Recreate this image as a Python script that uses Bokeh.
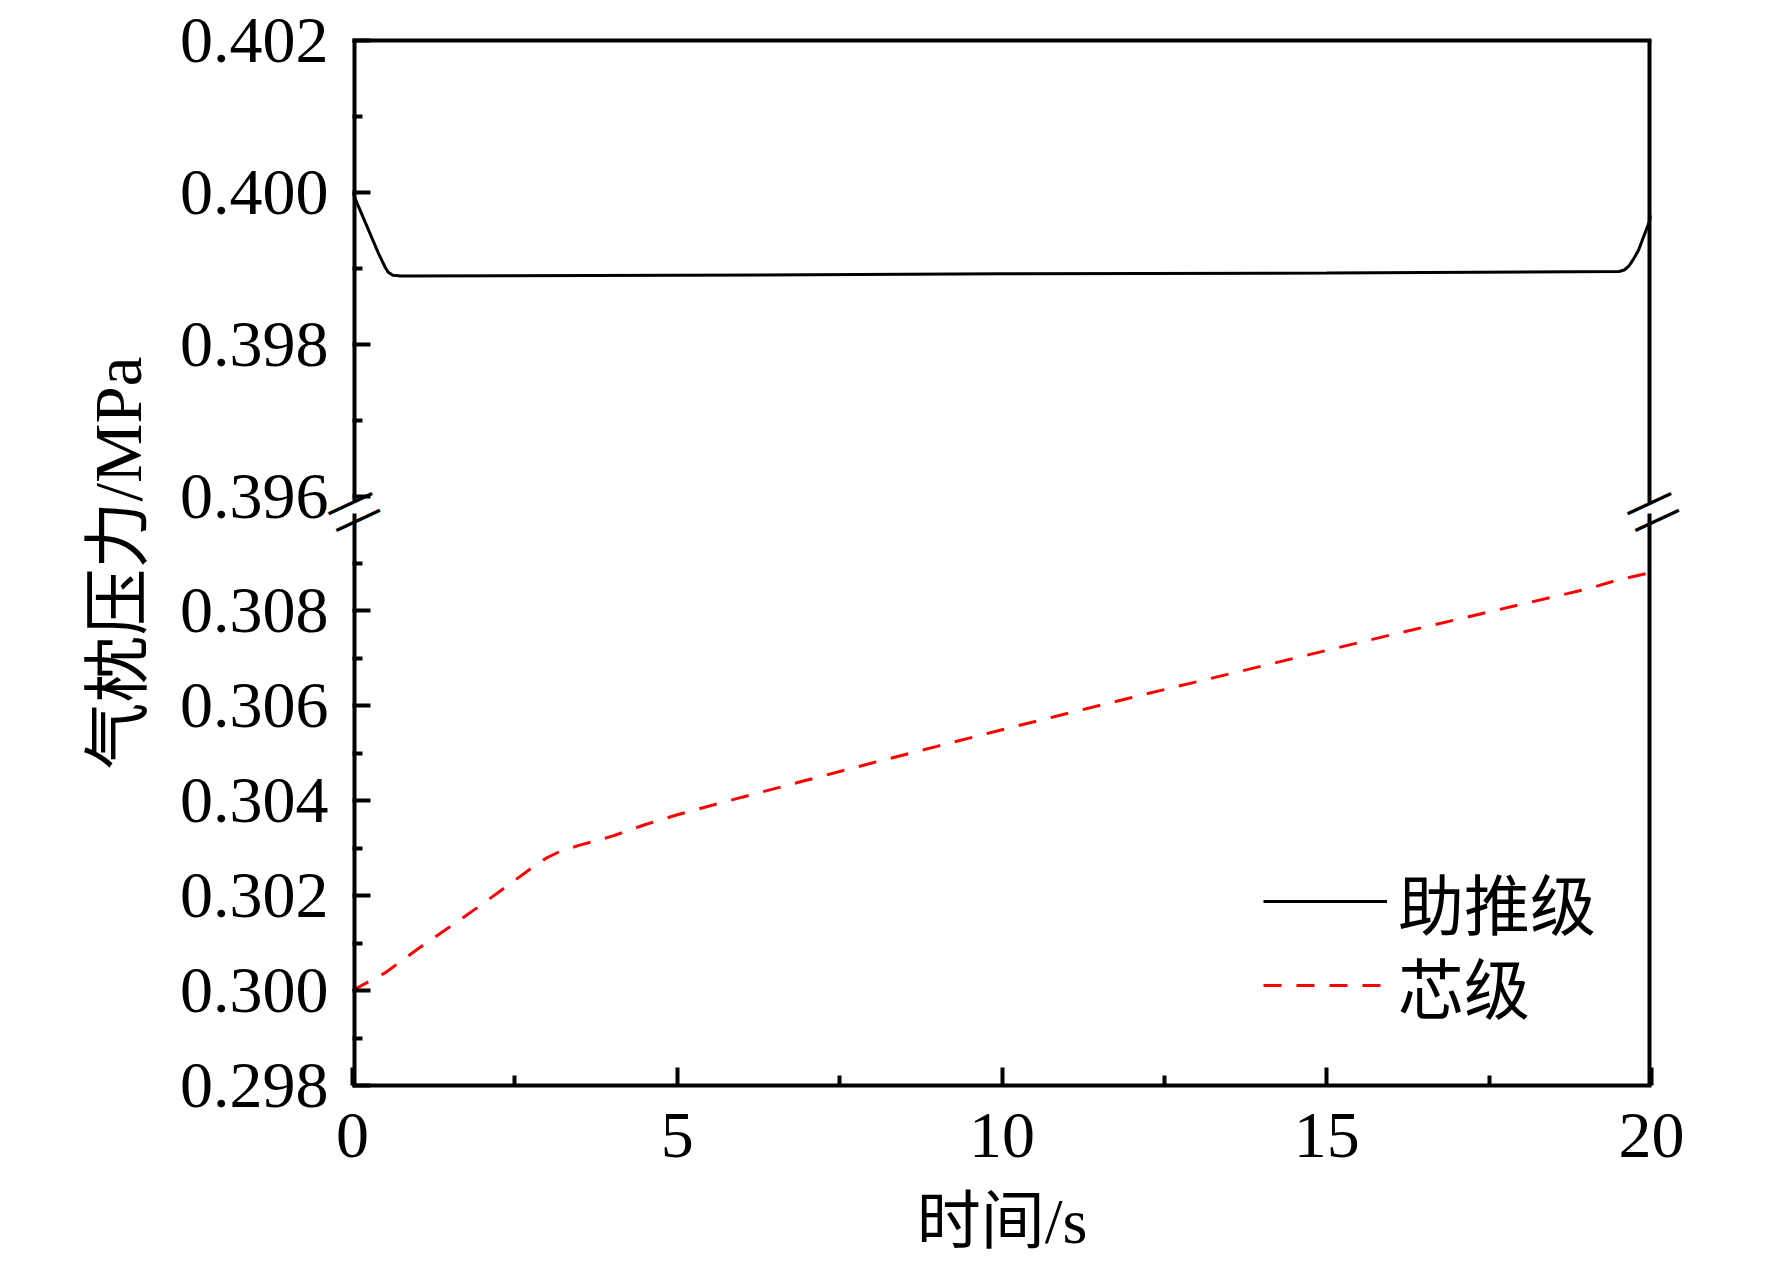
import math
from bokeh.plotting import figure
from bokeh.models import (Range1d, LinearAxis, FixedTicker, PrintfTickFormatter,
                          Legend, LegendItem, Label)
from bokeh.embed import file_html
from bokeh.resources import INLINE

# ---------------- data ----------------
series_names = ["助推级", "芯级"]
x_label = "时间/s"
y_label = "气枕压力/MPa"

time_booster = [0.00, 0.10, 0.20, 0.30, 0.40, 0.50, 0.55, 0.62, 0.75, 5.0, 10.0, 15.0,
                19.50, 19.58, 19.65, 19.72, 19.80, 19.88, 19.95, 20.00]
p_booster = [0.40000, 0.39980, 0.39960, 0.39940, 0.39920, 0.39902, 0.39895, 0.39891, 0.39890,
             0.39891, 0.39893, 0.39894, 0.39896, 0.39898, 0.39903, 0.39912, 0.39924, 0.39942,
             0.39958, 0.39970]

time_core = [0.0, 0.5, 1.0, 1.5, 2.0, 2.5, 2.8, 3.0, 3.2, 3.5, 4.0, 4.5, 5.0, 6.0, 7.0, 8.0,
             9.0, 10.0, 11.0, 12.0, 13.0, 14.0, 15.0, 16.0, 17.0, 18.0, 19.0, 19.5, 20.0]
p_core = [0.30000, 0.30037, 0.30087, 0.30134, 0.30182, 0.30232, 0.30262, 0.30280, 0.30293,
          0.30306, 0.30325, 0.30349, 0.30370, 0.30407, 0.30443, 0.30479, 0.30514, 0.30549,
          0.30583, 0.30617, 0.30650, 0.30683, 0.30716, 0.30749, 0.30781, 0.30813, 0.30845,
          0.30865, 0.30880]

y_top_ticks = [0.396, 0.398, 0.400, 0.402]
y_top_minor = [0.397, 0.399, 0.401]
y_bot_ticks = [0.298, 0.300, 0.302, 0.304, 0.306, 0.308]
y_bot_minor = [0.299, 0.301, 0.303, 0.305, 0.307, 0.309]
x_ticks = [0, 5, 10, 15, 20]
x_minor = [2.5, 7.5, 12.5, 17.5]

# ---------------- layout / style ----------------
FONT = "Liberation Serif, Noto Sans CJK SC"
NUM_FONT = "Liberation Serif"
FW, FH = 1299, 1045            # frame size (px)
LEFT_B, TOP_B, RIGHT_B, BOT_B = 352, 40, 50, 176
X_START, X_END = 0, 20
BOT_START = 0.298              # lower panel bottom value
BOT_PX = 47500.0               # px per MPa in lower panel
TOP_END = 0.402                # upper panel top value
TOP_PX = 76000.0               # px per MPa in upper panel
BREAK_TOP = 0.39597            # where the upper panel stops
BREAK_BOT = 0.30996            # where the lower panel stops


def on_lower_scale(v):
    """Position of an upper-panel value expressed on the lower panel's (default) y range."""
    return BOT_START + (FH - (TOP_END - v) * TOP_PX) / BOT_PX


p = figure(x_range=Range1d(X_START, X_END),
           y_range=Range1d(BOT_START, BOT_START + FH / BOT_PX),
           extra_y_ranges={"top": Range1d(TOP_END - FH / TOP_PX, TOP_END)},
           frame_width=FW, frame_height=FH,
           min_border_left=LEFT_B, min_border_right=RIGHT_B,
           min_border_top=TOP_B, min_border_bottom=BOT_B,
           toolbar_location=None, output_backend="svg",
           x_axis_type=None, y_axis_type=None, title=None)
p.outline_line_color = None
p.background_fill_color = "white"
p.border_fill_color = "white"


def ticks_style(ax, ticks, minor, font):
    ax.ticker = FixedTicker(ticks=ticks, minor_ticks=minor)
    ax.major_tick_in = 18
    ax.major_tick_out = 0
    ax.minor_tick_in = 10
    ax.minor_tick_out = 0
    ax.major_tick_line_width = 4
    ax.minor_tick_line_width = 4
    ax.major_tick_line_color = "black"
    ax.minor_tick_line_color = "black"
    ax.major_label_text_font = font
    ax.major_label_text_font_size = "66px"
    ax.major_label_text_color = "black"
    return ax


def edge_axis(ax, width=4, cap="butt"):
    ax.ticker = FixedTicker(ticks=[])
    ax.axis_line_width = width
    ax.axis_line_color = "black"
    ax.axis_line_cap = cap
    ax.major_tick_in = 0
    ax.major_tick_out = 0
    ax.minor_tick_in = 0
    ax.minor_tick_out = 0
    ax.major_tick_line_color = None
    ax.minor_tick_line_color = None
    ax.major_label_text_font_size = "0px"
    return ax


# left: one axis carries the ticks and labels of both panels (no line of its own)
ax_y = ticks_style(LinearAxis(),
                   y_bot_ticks + [on_lower_scale(v) for v in y_top_ticks],
                   y_bot_minor + [on_lower_scale(v) for v in y_top_minor],
                   NUM_FONT)
ax_y.axis_line_color = None
ax_y.formatter = PrintfTickFormatter(format="%.3f")
ax_y.major_label_overrides = {on_lower_scale(v): f"{v:.3f}" for v in y_top_ticks}
ax_y.major_label_standoff = 24
ax_y.axis_label = y_label
ax_y.axis_label_text_font = FONT
ax_y.axis_label_text_font_size = "67px"
ax_y.axis_label_text_font_style = "normal"
ax_y.axis_label_text_color = "black"
ax_y.axis_label_standoff = 22
p.add_layout(ax_y, "left")

# broken frame edges (left and right), one segment per panel
for xloc, side in ((X_START, "left"), (X_END, "right")):
    p.add_layout(edge_axis(LinearAxis(bounds=(BOT_START, BREAK_BOT), fixed_location=xloc),
                           8, "square"), side)
    p.add_layout(edge_axis(LinearAxis(y_range_name="top", bounds=(BREAK_TOP, TOP_END),
                                      fixed_location=xloc), 8, "square"), side)

# top edge
p.add_layout(edge_axis(LinearAxis()), "above")

# x axis
xa = ticks_style(LinearAxis(), x_ticks, x_minor, FONT)
xa.axis_line_width = 4
xa.axis_line_color = "black"
xa.axis_line_cap = "butt"
xa.major_label_standoff = 28
xa.axis_label = x_label
xa.axis_label_text_font = FONT
xa.axis_label_text_font_size = "64px"
xa.axis_label_text_font_style = "normal"
xa.axis_label_text_color = "black"
xa.axis_label_standoff = 26
p.add_layout(xa, "below")

# ---- series ----
r_boost = p.line(time_booster, p_booster, line_color="black", line_width=3, y_range_name="top")
r_core = p.line(time_core, p_core, line_color="red", line_width=3, line_dash="18 15")


def legend_for(name, renderer, vy):
    return Legend(items=[LegendItem(label=name, renderers=[renderer])],
                  location=(911, vy), orientation="vertical",
                  label_text_font=FONT, label_text_font_size="66px", label_text_color="black",
                  label_text_baseline="middle",
                  glyph_width=124, glyph_height=64, label_height=64, label_standoff=11,
                  spacing=0, padding=0, margin=0,
                  border_line_color=None, background_fill_alpha=0)


p.add_layout(legend_for(series_names[0], r_boost, 136))
p.add_layout(legend_for(series_names[1], r_core, 52))

# ---- axis-break marks: two short parallel strokes across each side edge ----
SLASH_ANGLE = math.atan2(20, 43)
y_break_mid = (on_lower_scale(BREAK_TOP) + BREAK_BOT) / 2
for xc, side in ((X_START, "left"), (X_END, "right")):
    p.add_layout(Label(x=xc, y=y_break_mid, text="—\n—", angle=SLASH_ANGLE,
                       text_align="center", text_baseline="middle",
                       text_line_height=0.352,
                       text_font="Liberation Sans", text_font_size="48px",
                       text_color="black"), side)

open("out.html", "w").write(file_html(p, INLINE))
